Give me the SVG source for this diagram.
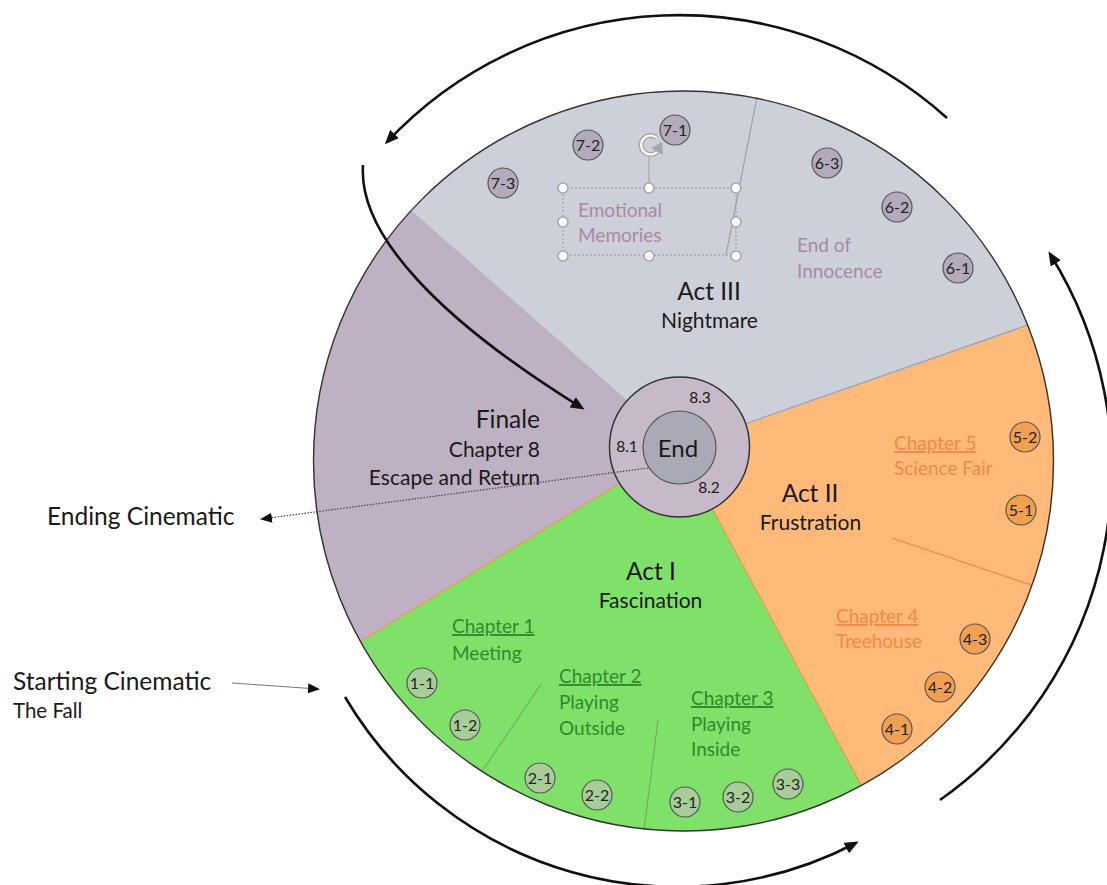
<svg xmlns="http://www.w3.org/2000/svg" width="1107" height="885" viewBox="0 0 1107 885">
<defs>
<style>
text{font-family:Lato,"Liberation Sans",sans-serif;}
.title{font-size:24.5px;fill:#1a1a1a;}
.sub{font-size:21px;fill:#1a1a1a;}
.ch{font-size:19px;}
.chu{font-size:19px;text-decoration:underline;}
.grn{fill:#2f8a2a;}
.org{fill:#f08a4c;}
.mauve{font-size:19px;fill:#a68aa6;}
.nl{font-size:16px;fill:#222;text-anchor:middle;}
.ng circle{stroke:#555;stroke-width:1.2;}
.g7 circle{fill:#b3abbb;}
.go circle{fill:#f1a052;}
.gg circle{fill:#a9cd98;}
.arc{fill:none;stroke:#111;stroke-width:2.6;}
.h{fill:#fff;stroke:#a8a8a8;stroke-width:1.6;}
</style>
<marker id="ah" markerUnits="userSpaceOnUse" markerWidth="16" markerHeight="12" refX="11" refY="6" orient="auto">
<path d="M0,0 L14,6 L0,12 z" fill="#111"/>
</marker>
<marker id="ahs" markerUnits="userSpaceOnUse" markerWidth="14" markerHeight="10" refX="10" refY="5" orient="auto">
<path d="M0,0 L12,5 L0,10 z" fill="#111"/>
</marker>
</defs>
<rect width="1107" height="885" fill="#fff"/>

<g id="pie">
<path id="act3-sector" d="M679 447 L410.8 210.9 A370 370 0 0 1 1028 325 Z" fill="#cdd0d9"/>
<path id="act2-sector" d="M679 447 L1028 325 A370 370 0 0 1 861.3 785.4 Z" fill="#ffb979"/>
<path id="act1-sector" d="M679 447 L861.3 785.4 A370 370 0 0 1 360.1 641.8 Z" fill="#80e16a"/>
<path id="finale-sector" d="M679 447 L360.1 641.8 A370 370 0 0 1 410.8 210.9 Z" fill="#beb1c3"/>
<line x1="679" y1="447" x2="410.8" y2="210.9" stroke="#b4b2bc" stroke-width="1.2"/>
<line x1="679" y1="447" x2="1028" y2="325" stroke="#93a3bd" stroke-width="1.2"/>
<line x1="679" y1="447" x2="861.3" y2="785.4" stroke="#f0954a" stroke-width="1.2"/>
<line x1="679" y1="447" x2="360.1" y2="641.8" stroke="#f0954a" stroke-width="1.2"/>
<line x1="892" y1="538" x2="1031" y2="585" stroke="#f0884a" stroke-width="1.3"/>
<line x1="541" y1="684" x2="483" y2="770" stroke="#6aae5a" stroke-width="1.1"/>
<line x1="658" y1="720" x2="644" y2="830" stroke="#6aae5a" stroke-width="1.1"/>
<line x1="757" y1="97" x2="726" y2="255" stroke="#9a9aa2" stroke-width="1.1"/>
<circle cx="683.5" cy="461" r="370" fill="none" stroke="#333" stroke-width="1.4"/>
</g>

<g id="act3">
<text class="title" x="709" y="300" text-anchor="middle">Act III</text>
<text class="sub" x="709.5" y="328" text-anchor="middle">Nightmare</text>
</g>
<g id="emotional-memories">
<rect x="563" y="188" width="173" height="67" fill="none" stroke="#9a9a9a" stroke-width="1" stroke-dasharray="2 2"/>
<line x1="649" y1="156" x2="649" y2="188" stroke="#a8a8a8" stroke-width="1.2"/>
<path d="M657 138 A9.5 9.5 0 1 0 657 152" fill="none" stroke="#a8a8a8" stroke-width="5"/>
<path d="M657 138 A9.5 9.5 0 1 0 657 152" fill="none" stroke="#fff" stroke-width="2.2"/>
<path d="M651 148 L663 155 L662 142 z" fill="#a8a8a8"/>
<circle class="h" cx="563" cy="188" r="5"/>
<circle class="h" cx="649" cy="188" r="5"/>
<circle class="h" cx="736" cy="188" r="5"/>
<circle class="h" cx="563" cy="222" r="5"/>
<circle class="h" cx="736" cy="222" r="5"/>
<circle class="h" cx="563" cy="256" r="5"/>
<circle class="h" cx="649" cy="256" r="5"/>
<circle class="h" cx="736" cy="256" r="5"/>
<text class="mauve" x="578" y="217">Emotional</text>
<text class="mauve" x="578" y="242">Memories</text>
</g>
<g id="end-of-innocence">
<text class="mauve" x="797" y="252">End of</text>
<text class="mauve" x="797" y="278">Innocence</text>
</g>

<g id="finale">
<text class="title" x="540" y="428" text-anchor="end">Finale</text>
<text class="sub" x="540" y="457" text-anchor="end">Chapter 8</text>
<text class="sub" x="540" y="485" text-anchor="end">Escape and Return</text>
</g>
<g id="act2">
<text class="title" x="810" y="502" text-anchor="middle">Act II</text>
<text class="sub" x="810.5" y="530" text-anchor="middle">Frustration</text>
</g>
<g id="chapter5">
<text class="chu org" x="894" y="450">Chapter 5</text>
<text class="ch org" x="894" y="475">Science Fair</text>
</g>
<g id="chapter4">
<text class="chu org" x="836" y="623">Chapter 4</text>
<text class="ch org" x="836" y="648">Treehouse</text>
</g>
<g id="act1">
<text class="title" x="651" y="580" text-anchor="middle">Act I</text>
<text class="sub" x="650.5" y="608" text-anchor="middle">Fascination</text>
</g>
<g id="chapter1">
<text class="chu grn" x="452" y="633">Chapter 1</text>
<text class="ch grn" x="452" y="660">Meeting</text>
</g>
<g id="chapter2">
<text class="chu grn" x="559" y="683">Chapter 2</text>
<text class="ch grn" x="559" y="709">Playing</text>
<text class="ch grn" x="559" y="735">Outside</text>
</g>
<g id="chapter3">
<text class="chu grn" x="691" y="705">Chapter 3</text>
<text class="ch grn" x="691" y="731">Playing</text>
<text class="ch grn" x="691" y="756">Inside</text>
</g>

<g id="n7-1" class="ng g7"><circle cx="675" cy="130" r="15"/><text class="nl" x="675" y="135.5">7-1</text></g>
<g id="n7-2" class="ng g7"><circle cx="588" cy="145" r="15"/><text class="nl" x="588" y="150.5">7-2</text></g>
<g id="n7-3" class="ng g7"><circle cx="503" cy="183" r="15"/><text class="nl" x="503" y="188.5">7-3</text></g>
<g id="n6-3" class="ng g7"><circle cx="827" cy="163" r="15"/><text class="nl" x="827" y="168.5">6-3</text></g>
<g id="n6-2" class="ng g7"><circle cx="897" cy="207" r="15"/><text class="nl" x="897" y="212.5">6-2</text></g>
<g id="n6-1" class="ng g7"><circle cx="958" cy="268" r="15"/><text class="nl" x="958" y="273.5">6-1</text></g>
<g id="n5-2" class="ng go"><circle cx="1025" cy="437" r="15"/><text class="nl" x="1025" y="442.5">5-2</text></g>
<g id="n5-1" class="ng go"><circle cx="1021" cy="510" r="15"/><text class="nl" x="1021" y="515.5">5-1</text></g>
<g id="n4-3" class="ng go"><circle cx="975" cy="639" r="15"/><text class="nl" x="975" y="644.5">4-3</text></g>
<g id="n4-2" class="ng go"><circle cx="940" cy="687" r="15"/><text class="nl" x="940" y="692.5">4-2</text></g>
<g id="n4-1" class="ng go"><circle cx="897" cy="729" r="15"/><text class="nl" x="897" y="734.5">4-1</text></g>
<g id="n1-1" class="ng gg"><circle cx="422" cy="683" r="15"/><text class="nl" x="422" y="688.5">1-1</text></g>
<g id="n1-2" class="ng gg"><circle cx="465" cy="725" r="15"/><text class="nl" x="465" y="730.5">1-2</text></g>
<g id="n2-1" class="ng gg"><circle cx="540" cy="778" r="15"/><text class="nl" x="540" y="783.5">2-1</text></g>
<g id="n2-2" class="ng gg"><circle cx="597" cy="795" r="15"/><text class="nl" x="597" y="800.5">2-2</text></g>
<g id="n3-1" class="ng gg"><circle cx="685" cy="802" r="15"/><text class="nl" x="685" y="807.5">3-1</text></g>
<g id="n3-2" class="ng gg"><circle cx="738" cy="797" r="15"/><text class="nl" x="738" y="802.5">3-2</text></g>
<g id="n3-3" class="ng gg"><circle cx="788" cy="784" r="15"/><text class="nl" x="788" y="789.5">3-3</text></g>

<g id="end-hub">
<circle cx="679.5" cy="447" r="70" fill="#c6bac9" stroke="#333" stroke-width="1.5"/>
<circle cx="679.5" cy="447.5" r="36.5" fill="#aaaab7" stroke="#555" stroke-width="1.2"/>
<text x="678" y="457" font-size="24" fill="#1a1a1a" text-anchor="middle">End</text>
<text x="627" y="452" font-size="15.5" fill="#1a1a1a" text-anchor="middle">8.1</text>
<text x="700" y="403" font-size="15.5" fill="#1a1a1a" text-anchor="middle">8.3</text>
<text x="709" y="493" font-size="15.5" fill="#1a1a1a" text-anchor="middle">8.2</text>
</g>

<g id="ending-cinematic">
<text class="title" x="47" y="525">Ending Cinematic</text>
</g>
<g id="starting-cinematic">
<text class="title" x="13" y="690">Starting Cinematic</text>
<text x="13" y="718" font-size="20.5" fill="#1a1a1a">The Fall</text>
</g>

<g id="connectors">
<path class="arc" d="M947 118 A400 400 0 0 0 387 142" marker-end="url(#ah)"/>
<path class="arc" d="M940 800 A405 405 0 0 0 1050 254" marker-end="url(#ah)"/>
<path class="arc" d="M345 697 A386 386 0 0 0 856 843" marker-end="url(#ah)"/>
<path class="arc" d="M363 165 C358 235 440 320 582 408" marker-end="url(#ah)"/>
<line x1="648" y1="468" x2="262" y2="519" stroke="#444" stroke-width="1.2" stroke-dasharray="1.5 1.5" marker-end="url(#ahs)"/>
<line x1="232" y1="683" x2="318" y2="689" stroke="#777" stroke-width="1" marker-end="url(#ahs)"/>
</g>
</svg>
